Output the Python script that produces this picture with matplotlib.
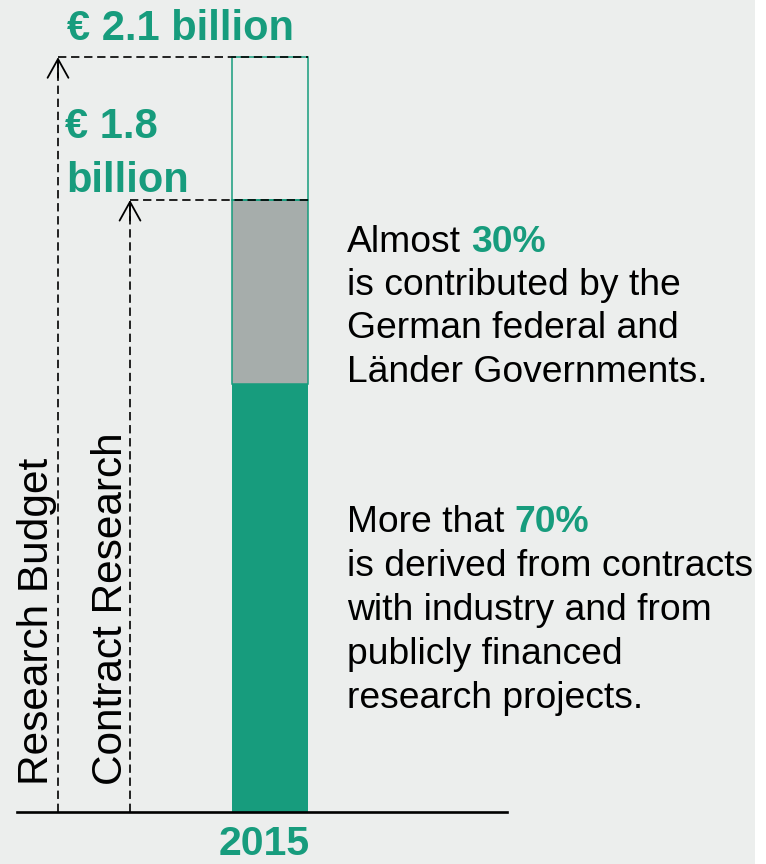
import matplotlib
matplotlib.use("Agg")
import matplotlib.pyplot as plt
from matplotlib.patches import Rectangle

plt.rcParams['font.family'] = ['Liberation Sans', 'DejaVu Sans']
plt.rcParams['lines.scale_dashes'] = False

# ---- data (segment heights as drawn in the reference, billion EUR) ----
year_labels = ["2015"]
industry_segment = [1.26]      # >70% of contract research
government_segment = [0.54]    # ~30% of contract research
budget_rest_segment = [0.42]   # remaining research budget (outlined box)
contract_total = [industry_segment[0] + government_segment[0]]
budget_total = [contract_total[0] + budget_rest_segment[0]]
budget_label = "€ 2.1 billion"
contract_label = "€ 1.8\nbillion"
axis_labels = ["Research Budget", "Contract Research"]

GREEN = "#179c7d"
GRAY = "#a6adab"
BG = "#eceeed"

W, H, DPI = 766, 864, 100
fig = plt.figure(figsize=(W / DPI, H / DPI), dpi=DPI, facecolor="white")
fig.patches.append(Rectangle((0, 0), 755 / W, 1, transform=fig.transFigure,
                             facecolor=BG, edgecolor="none", zorder=-10))

# axes: baseline at y=812 px, from x=17 to 507 px
ax = fig.add_axes([17 / W, (H - 812) / H, 490 / W, 812 / H])
ax.set_facecolor("none")
px_per_x = 76.0
px_per_y = 340.0
bar_center_px = 270
ax.set_xlim(-(bar_center_px - 17) / px_per_x, (507 - bar_center_px) / px_per_x)
ax.set_ylim(0, 812 / px_per_y)

def xd(px):
    return (px - bar_center_px) / px_per_x

def yd(py):
    return (812 - py) / px_per_y

xpos = [0]
ax.bar(xpos, industry_segment, width=1.0, color=GREEN, edgecolor="none", zorder=2)
ax.bar(xpos, government_segment, bottom=industry_segment, width=1.0, color=GRAY,
       edgecolor=GREEN, linewidth=1.1, zorder=2)
ax.bar(xpos, budget_rest_segment, bottom=contract_total, width=1.0, color="none",
       edgecolor=GREEN, linewidth=1.1, zorder=2)

# dashed guide lines with arrowheads
dash = (6, 3.4)
guides = [(xd(58), budget_total[0]), (xd(130), contract_total[0])]
for gx, gy in guides:
    ax.plot([gx, gx], [0, gy], color="black", lw=1.2, dashes=dash, zorder=3,
            dash_capstyle="butt")
    ax.plot([gx, 0.5], [gy, gy], color="black", lw=1.2, dashes=dash, zorder=3,
            dash_capstyle="butt")
    ax.annotate("", xy=(gx, gy), xytext=(gx, gy - 0.06),
                arrowprops=dict(arrowstyle="->,head_length=1.35,head_width=0.75",
                                color="black", lw=1.3, shrinkA=0, shrinkB=0,
                                mutation_scale=10), zorder=4)

# value labels
lab_fs = 30
ax.text(xd(67), yd(40), budget_label, color=GREEN, fontsize=lab_fs, fontweight="bold",
        ha="left", va="baseline")
l1, l2 = contract_label.split("\n")
ax.text(xd(65), yd(138), l1, color=GREEN, fontsize=lab_fs, fontweight="bold",
        ha="left", va="baseline")
ax.text(xd(66), yd(192), l2, color=GREEN, fontsize=lab_fs, fontweight="bold",
        ha="left", va="baseline")

# rotated labels
ax.text(xd(48), yd(785), axis_labels[0], rotation=90, rotation_mode="anchor",
        ha="left", va="baseline", fontsize=30.5, color="black")
ax.text(xd(122), yd(785), axis_labels[1], rotation=90, rotation_mode="anchor",
        ha="left", va="baseline", fontsize=30.5, color="black")

# right-hand descriptions
text_x = xd(347)
fs = 26.8
blk1 = [("Almost ", "30%"), "is contributed by the", "German federal and",
        "Länder Governments."]
blk1_y = [252, 295, 338, 382]
blk2 = [("More that ", "70%"), "is derived from contracts", "with industry and from",
        "publicly financed", "research projects."]
blk2_y = [532, 576, 620, 664, 708]

fig.canvas.draw()
renderer = fig.canvas.get_renderer()
for blk, ys in ((blk1, blk1_y), (blk2, blk2_y)):
    for line, py in zip(blk, ys):
        if isinstance(line, tuple):
            t = ax.text(text_x, yd(py), line[0].rstrip(), fontsize=fs, color="black",
                        ha="left", va="baseline")
            bb = t.get_window_extent(renderer)
            space_px = 0.278 * fs * DPI / 72
            x_disp = bb.x1 + space_px
            x_dat = ax.transData.inverted().transform((x_disp, 0))[0]
            ax.text(x_dat, yd(py), line[1], fontsize=fs, color=GREEN,
                    fontweight="bold", ha="left", va="baseline")
        else:
            ax.text(text_x, yd(py), line, fontsize=fs, color="black",
                    ha="left", va="baseline")

# axes styling
for s in ("top", "left", "right"):
    ax.spines[s].set_visible(False)
ax.spines["bottom"].set_linewidth(1.9)
ax.spines["bottom"].set_color("black")
ax.set_yticks([])
ax.set_xticks(xpos)
ax.set_xticklabels([])
ax.tick_params(axis="x", length=0)
# year label under the bar, kept inside the bottom edge
ax.text(xd(264), yd(863), year_labels[0], color=GREEN, fontsize=29.5,
        fontweight="bold", ha="center", va="bottom", clip_on=False)

fig.savefig("out.png", dpi=DPI, facecolor=fig.get_facecolor())
